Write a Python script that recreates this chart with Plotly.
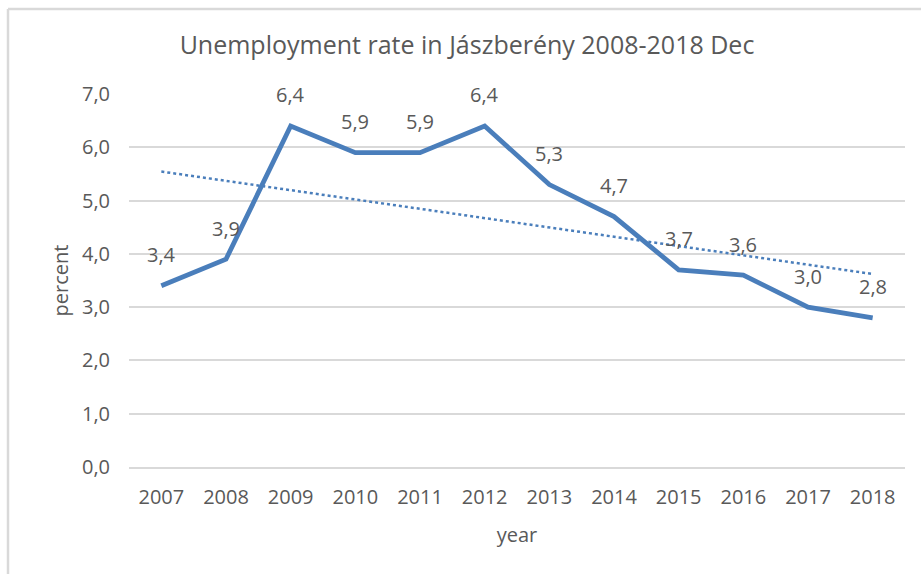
import numpy as np
import plotly.graph_objects as go

years = ["2007", "2008", "2009", "2010", "2011", "2012",
         "2013", "2014", "2015", "2016", "2017", "2018"]
rate = [3.4, 3.9, 6.4, 5.9, 5.9, 6.4, 5.3, 4.7, 3.7, 3.6, 3.0, 2.8]
y_ticks = [0, 1, 2, 3, 4, 5, 6, 7]

# linear trend across the category positions
idx = np.arange(1, len(rate) + 1)
slope, intercept = np.polyfit(idx, rate, 1)
trend = slope * idx + intercept

W, H = 921, 574
L, R, T, B = 129, 16, 94, 107
pw, ph = W - L - R, H - T - B

def px_x(x):
    return (x - L) / pw

def px_y(y):
    return (H - B - y) / ph

FONT = "Open Sans, Liberation Sans, sans-serif"
GREY = "#595959"
BLUE = "#4a7ebb"

fig = go.Figure()
fig.add_trace(go.Scatter(
    x=years, y=trend, mode="lines",
    line=dict(color=BLUE, width=2.5, dash="dot"),
    hoverinfo="skip", showlegend=False,
))
fig.add_trace(go.Scatter(
    x=years, y=rate, mode="lines",
    line=dict(color=BLUE, width=4.8),
    showlegend=False,
))

# value labels above each point (category positions by index)
for i, v in enumerate(rate):
    fig.add_annotation(
        x=i, y=v, xref="x", yref="y",
        text=f"{v:.1f}".replace(".", ","),
        showarrow=False, yshift=31,
        font=dict(family=FONT, size=20, color=GREY),
    )

# outer frame lines (left and top)
fig.add_shape(type="line", xref="paper", yref="paper",
              x0=px_x(8), x1=px_x(8), y0=px_y(9), y1=px_y(574),
              line=dict(color="#d9d9d9", width=2.5))
fig.add_shape(type="line", xref="paper", yref="paper",
              x0=px_x(8), x1=px_x(921), y0=px_y(9), y1=px_y(9),
              line=dict(color="#d9d9d9", width=2.5))

fig.update_layout(
    width=W, height=H,
    margin=dict(l=L, r=R, t=T, b=B),
    paper_bgcolor="white", plot_bgcolor="white",
    separators=", ",
    title=dict(
        text="Unemployment rate in Jászberény 2008-2018 Dec",
        x=467 / W, xanchor="center", y=1 - 45 / H, yanchor="middle",
        font=dict(family=FONT, size=25, color=GREY),
    ),
    xaxis=dict(
        type="category", range=[-0.5, 11.5],
        showgrid=False, showline=True, linecolor="#d9d9d9", linewidth=1.5,
        ticks="", ticklabelstandoff=11,
        tickfont=dict(family=FONT, size=20, color=GREY),
        title=dict(text="year", standoff=19,
                   font=dict(family=FONT, size=20, color=GREY)),
    ),
    yaxis=dict(
        range=[0, 7], tickvals=y_ticks, tickformat=".1f",
        showgrid=True, gridcolor="#d9d9d9", gridwidth=1.5,
        zeroline=False, showline=False,
        ticks="", ticklabelstandoff=18,
        tickfont=dict(family=FONT, size=20, color=GREY),
        title=dict(text="percent", standoff=7,
                   font=dict(family=FONT, size=20, color=GREY)),
    ),
)

fig.write_html("out.html")
